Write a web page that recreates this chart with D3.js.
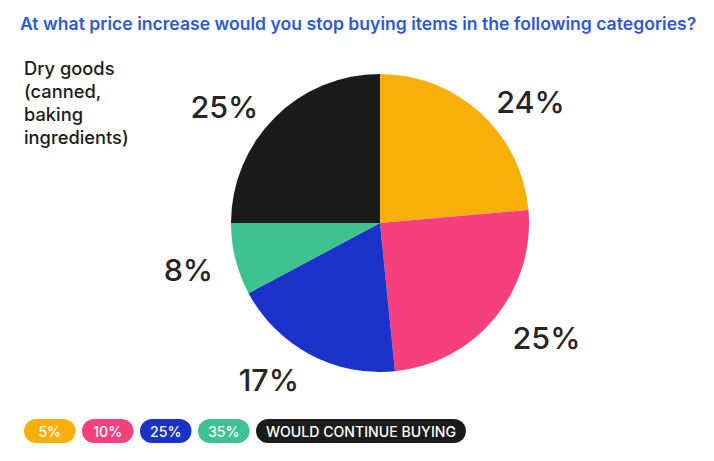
<!DOCTYPE html>
<html>
<head>
<meta charset="utf-8">
<script src="https://cdn.jsdelivr.net/npm/d3@7"></script>
<style>
  body { margin: 0; background: #fff; }
  svg { display: block; font-family: Inter, "Noto Sans", sans-serif; }
</style>
</head>
<body>
<div id="vis"></div>
<script>
const width = 714;
const height = 461;

const categories = ['5%', '10%', '25%', '35%', 'WOULD CONTINUE BUYING'];
const shares = [23.6, 24.8, 18.8, 7.8, 25];
const labels = ['24%', '25%', '17%', '8%', '25%'];
const colors = ['#f8af0a', '#f5407d', '#1a32c8', '#3ec292', '#1b1b1b'];

const title = 'At what price increase would you stop buying items in the following categories?';
const subtitle = ['Dry goods', '(canned,', 'baking', 'ingredients)'];

const cx = 380, cy = 223, r = 149;

const svg = d3.select('#vis')
    .append('svg')
    .attr('width', width)
    .attr('height', height);

// title
svg.append('text')
    .attr('x', 20)
    .attr('y', 30)
    .attr('fill', '#2c5ad6')
    .attr('font-size', 17.6)
    .attr('font-weight', 600)
    .text(title);

// category name on the left
svg.append('text')
    .attr('x', 24)
    .attr('y', 75)
    .attr('fill', '#1b1b1b')
    .attr('font-size', 18.3)
    .attr('font-weight', 500)
    .selectAll('tspan')
    .data(subtitle)
    .join('tspan')
    .attr('x', 24)
    .attr('dy', (d, i) => i === 0 ? 0 : 23)
    .text(d => d);

const pie = d3.pie().sort(null).value(d => d);
const arcs = pie(shares);

const arc = d3.arc().innerRadius(0).outerRadius(r);
const labelArc = d3.arc().innerRadius(172).outerRadius(172);

const g = svg.append('g').attr('transform', `translate(${cx},${cy})`);

g.selectAll('path')
    .data(arcs)
    .join('path')
    .attr('d', arc)
    .attr('fill', (d, i) => colors[i]);

g.selectAll('text.lbl')
    .data(arcs)
    .join('text')
    .attr('class', 'lbl')
    .attr('x', d => labelArc.centroid(d)[0])
    .attr('y', d => labelArc.centroid(d)[1] + 5)
    .attr('text-anchor', d => (d.startAngle + d.endAngle) / 2 < Math.PI ? 'start' : 'end')
    .attr('dominant-baseline', 'central')
    .attr('fill', '#262626')
    .attr('font-size', 30.5)
    .attr('font-weight', 500)
    .text((d, i) => labels[i]);

// legend pills
const legend = svg.append('g').attr('transform', 'translate(24,419)');
let lx = 0;
categories.forEach((c, i) => {
    const item = legend.append('g');
    const t = item.append('text')
        .attr('y', 12)
        .attr('dominant-baseline', 'central')
        .attr('text-anchor', 'middle')
        .attr('fill', '#fff')
        .attr('font-size', 14.1)
        .attr('font-weight', 500)
        .text(c);
    const w = Math.max(51.5, t.node().getComputedTextLength() + 20);
    item.insert('rect', 'text')
        .attr('x', lx)
        .attr('width', w)
        .attr('height', 24)
        .attr('rx', 12)
        .attr('fill', colors[i]);
    t.attr('x', lx + w / 2);
    lx += w + 6.5;
});
</script>
</body>
</html>
